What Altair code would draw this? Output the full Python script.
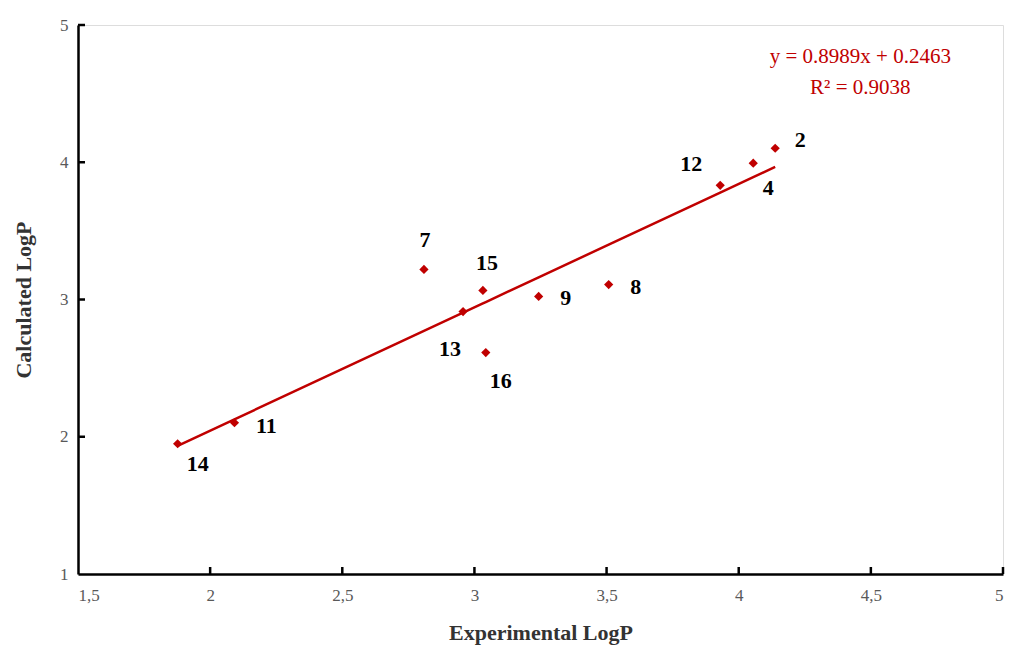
import altair as alt
import pandas as pd

# ---- data ----
compounds = ["14", "11", "7", "13", "15", "16", "9", "8", "12", "4", "2"]
exp_logp = [1.877, 2.092, 2.809, 2.957, 3.032, 3.043, 3.243, 3.508, 3.930, 4.055, 4.138]
calc_logp = [1.949, 2.102, 3.219, 2.912, 3.066, 2.613, 3.022, 3.109, 3.832, 3.993, 4.102]
slope = 0.8989
intercept = 0.2463
eq_lines = ["y = 0.8989x + 0.2463", "R² = 0.9038"]
x_ticks = [2, 2.5, 3, 3.5, 4, 4.5, 5]
y_ticks = [2, 3, 4, 5]

# label offsets (pixels) for each compound number
label_dx = [20, 32, 1, -13, 4, 15, 27, 27, -29, 15, 25]
label_dy = [20, 3, -29, 37, -27, 28, 2, 2, -21, 25, -8]

W, H = 925, 549
RED = "#C00000"
SERIF = "Liberation Serif"

df = pd.DataFrame({"id": compounds, "exp": exp_logp, "calc": calc_logp})

xs = alt.Scale(domain=[1.5, 5], nice=False, zero=False)
ys = alt.Scale(domain=[1, 5], nice=False, zero=False)

base = alt.Chart(df)

xaxis = alt.Axis(values=[1.5] + x_ticks, format="~g", labelExpr="replace(datum.label, '.', ',')",
                 grid=False, ticks=False, domainColor="black", domainWidth=2.5,
                 labelFont=SERIF, labelFontSize=17, labelColor="#595959", labelPadding=13,
                 title="Experimental  LogP", titleFont=SERIF, titleFontSize=22,
                 titleFontWeight="bold", titleColor="#333333", titlePadding=19)
yaxis = alt.Axis(values=[1] + y_ticks, format="~g", grid=False, ticks=False, domainColor="black",
                 domainWidth=2.5, labelFont=SERIF, labelFontSize=17, labelColor="#595959",
                 labelPadding=10,
                 title="Calculated  LogP", titleFont=SERIF, titleFontSize=22,
                 titleFontWeight="bold", titleColor="#333333", titlePadding=24)

fit = base.transform_calculate(
    fit=f"{slope} * datum.exp + {intercept}"
).mark_line(color=RED, strokeWidth=2.5).encode(
    x=alt.X("exp:Q", scale=xs, axis=xaxis),
    y=alt.Y("fit:Q", scale=ys, axis=yaxis),
)

pts = base.mark_point(shape="diamond", filled=True, color=RED, size=85, opacity=1).encode(
    x=alt.X("exp:Q", scale=xs),
    y=alt.Y("calc:Q", scale=ys),
)

labels = []
for i, c in enumerate(compounds):
    labels.append(
        base.transform_filter(alt.datum.id == c).mark_text(
            font=SERIF, fontSize=22, fontWeight="bold", color="black",
            align="center", baseline="middle", dx=label_dx[i], dy=label_dy[i]
        ).encode(x=alt.X("exp:Q", scale=xs), y=alt.Y("calc:Q", scale=ys), text="id:N")
    )

xt = alt.Chart(pd.DataFrame({"v": x_ticks})).mark_rule(color="black", strokeWidth=2.5).encode(
    x=alt.X("v:Q", scale=xs), y=alt.value(H), y2=alt.value(H - 7))
yt = alt.Chart(pd.DataFrame({"v": y_ticks})).mark_rule(color="black", strokeWidth=2.5).encode(
    y=alt.Y("v:Q", scale=ys), x=alt.value(0), x2=alt.value(7))

eq = alt.Chart(pd.DataFrame({"t": eq_lines, "x": [4.46, 4.46], "y": [4.767, 4.541]})).mark_text(
    font=SERIF, fontSize=21, color=RED, align="center", baseline="middle"
).encode(x=alt.X("x:Q", scale=xs), y=alt.Y("y:Q", scale=ys), text="t:N")

chart = alt.layer(fit, pts, *labels, xt, yt, eq).properties(
    width=W, height=H,
    autosize=alt.AutoSizeParams(type="none"),
    padding={"left": 78, "top": 25, "right": 10, "bottom": 77},
).configure_view(stroke=None).configure(background="white")

chart.save("out.html", embed_options={"renderer": "svg", "actions": False})
